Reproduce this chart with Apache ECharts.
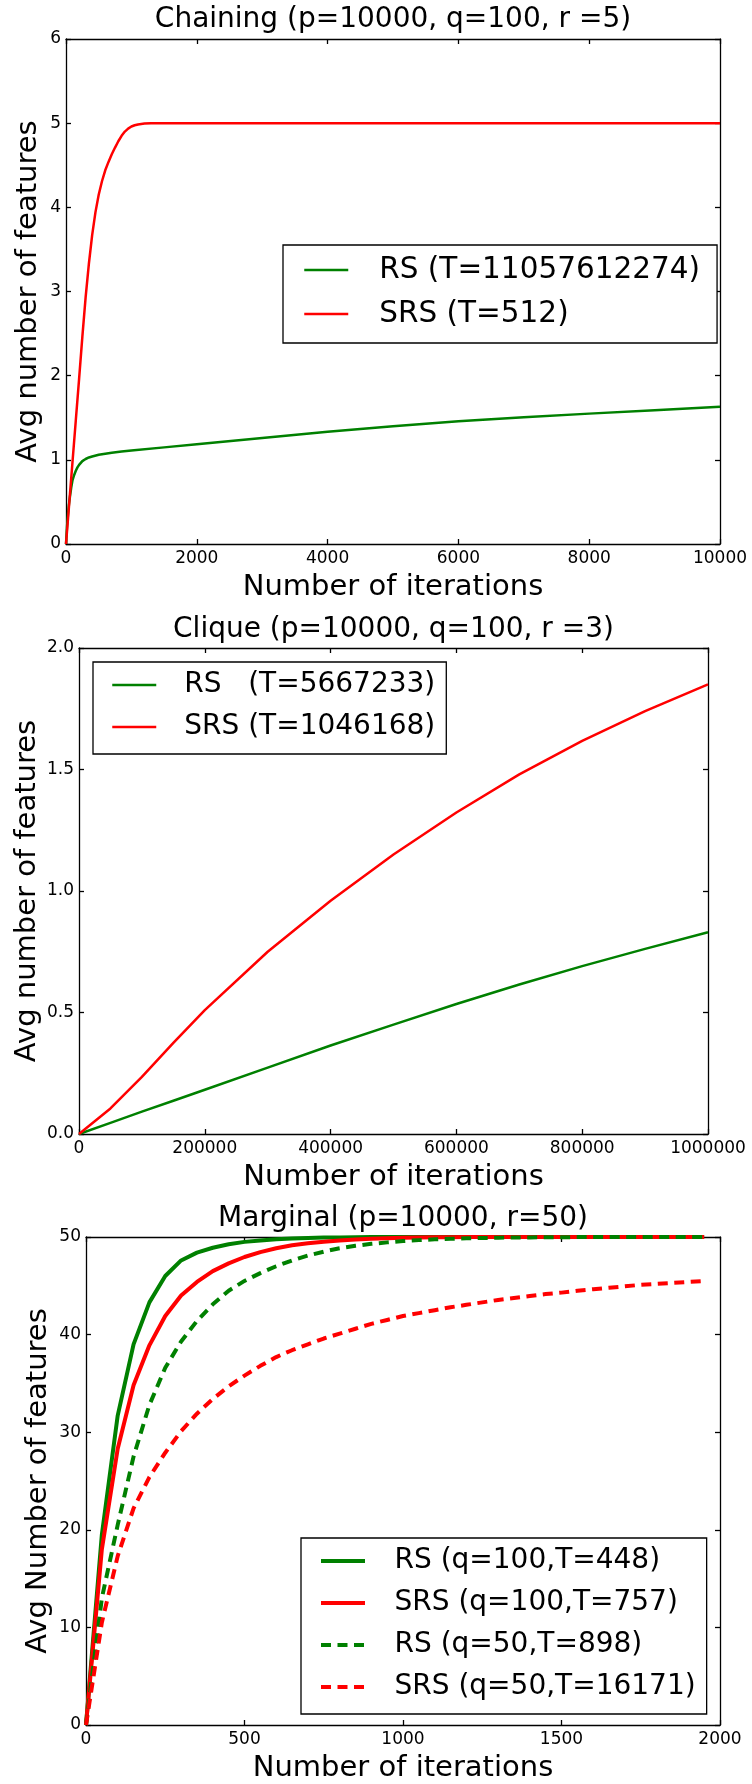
<!DOCTYPE html>
<html><head><meta charset="utf-8">
<script src="https://cdn.jsdelivr.net/npm/echarts@6/dist/echarts.min.js"></script>
<style>html,body{margin:0;padding:0;background:#fff}#c{width:752px;height:1784px}</style>
</head><body><div id="c"></div>
<script>
// ---------- Chart 1: Chaining ----------
const chainRsIter  = [0,15,30,45,60,80,100,125,150,175,200,250,300,350,400,500,600,700,850,1000,1500,2000,3000,4000,5000,6000,7000,8000,9000,10000];
const chainRsVal   = [0,0.2,0.35,0.47,0.56,0.67,0.76,0.82,0.87,0.91,0.94,0.985,1.01,1.028,1.04,1.06,1.073,1.085,1.098,1.11,1.148,1.185,1.26,1.335,1.4,1.458,1.505,1.549,1.59,1.63];
const chainSrsIter = [0,50,100,150,200,250,300,350,400,450,500,550,600,650,700,750,800,850,900,950,1000,1050,1100,1200,1300,1400,2000,4000,6000,8000,10000];
const chainSrsVal  = [0,0.49,0.98,1.47,1.96,2.46,2.93,3.33,3.67,3.94,4.15,4.31,4.44,4.54,4.63,4.71,4.785,4.85,4.9,4.935,4.96,4.975,4.985,4.995,4.999,5,5,5,5,5,5];
const chainXTicks = [0,10000,2000];
const chainYTicks = [0,6,1];

// ---------- Chart 2: Clique ----------
const cliqueIter = [0,50000,100000,150000,200000,300000,400000,500000,600000,700000,800000,900000,1000000];
const cliqueRs   = [0,0.046,0.092,0.137,0.182,0.273,0.364,0.45,0.535,0.615,0.691,0.762,0.83];
const cliqueSrs  = [0,0.105,0.235,0.375,0.51,0.75,0.96,1.15,1.323,1.48,1.618,1.74,1.85];
const cliqueXTicks = [0,1000000,200000];
const cliqueYTicks = [0,2,0.5];

// ---------- Chart 3: Marginal ----------
const margIter = [0,50,100,150,200,250,300,350,400,450,500,550,600,650,700,750,800,850,900,950,
                  1000,1050,1100,1150,1200,1250,1300,1350,1400,1450,1500,1550,1600,1650,1700,1750,1800,1850,1900,1950];
const margRs100  = [0,19.5,31.7,39.0,43.3,46.0,47.6,48.4,48.9,49.25,49.5,49.65,49.77,49.85,49.9,49.94,49.96,49.98,49.99,50,
                    50,50,50,50,50,50,50,50,50,50,50,50,50,50,50,50,50,50,50,50];
const margSrs100 = [0,18,28.3,34.8,38.9,41.9,44.0,45.4,46.5,47.3,47.95,48.45,48.85,49.15,49.35,49.52,49.65,49.75,49.82,49.88,
                    49.92,49.95,49.97,49.98,49.99,50,50,50,50,50,50,50,50,50,50,50,50,50,50,50];
const margRs50   = [0,13,20.5,27.5,32.8,36.6,39.3,41.4,43.1,44.5,45.5,46.3,47.0,47.6,48.1,48.5,48.85,49.1,49.3,49.45,
                    49.58,49.68,49.76,49.82,49.87,49.9,49.93,49.95,49.96,49.97,49.98,49.99,50,50,50,50,50,50,50,50];
const margSrs50  = [0,10.5,17.3,22.2,25.4,27.9,30.1,31.9,33.4,34.7,35.8,36.8,37.7,38.4,39.0,39.6,40.1,40.6,41.1,41.5,
                    41.9,42.2,42.5,42.8,43.05,43.3,43.55,43.75,43.95,44.15,44.3,44.5,44.65,44.8,44.95,45.1,45.2,45.3,45.4,45.5];
const margXTicks = [0,2000,500];
const margYTicks = [0,50,10];

const titles = ['Chaining (p=10000, q=100, r =5)', 'Clique (p=10000, q=100, r =3)', 'Marginal (p=10000, r=50)'];
const xNames = ['Number of iterations','Number of iterations','Number of iterations'];
const yNames = ['Avg number of features','Avg number of features','Avg Number of features'];
const names1 = ['RS (T=11057612274)','SRS (T=512)'];
const names2 = ['RS   (T=5667233)','SRS (T=1046168)'];
const names3 = ['RS (q=100,T=448)','SRS (q=100,T=757)','RS (q=50,T=898)','SRS (q=50,T=16171)'];

const GREEN = '#008000', RED = '#ff0000', FONT = 'DejaVu Sans';
const zip = (a, b) => a.map((v, i) => [v, b[i]]);

const grids = [
  {left:66, top:39, width:654, height:505},
  {left:79, top:648, width:629, height:486},
  {left:86, top:1237, width:634, height:490}
];
const xT = [chainXTicks, cliqueXTicks, margXTicks];
const yT = [chainYTicks, cliqueYTicks, margYTicks];
const yNameGap = [23, 37, 33];

const lineCommon = {show:true, onZero:false, lineStyle:{color:'#000', width:1.3}};
const tickCommon = {show:true, inside:true, length:5, lineStyle:{color:'#000', width:1.3}};
const labelCommon = {color:'#000', fontSize:17, fontFamily:FONT};
const nameStyle = {color:'#000', fontSize:29, fontFamily:FONT};

const xAxis = [], yAxis = [];
for (let g = 0; g < 3; g++) {
  const [xmin, xmax, xint] = xT[g];
  const [ymin, ymax, yint] = yT[g];
  xAxis.push({type:'value', gridIndex:g, position:'bottom', min:xmin, max:xmax, interval:xint,
    axisLine:lineCommon, axisTick:tickCommon, splitLine:{show:false},
    axisLabel:Object.assign({margin:6, showMinLabel:true, showMaxLabel:true, formatter:(v => String(v))}, labelCommon),
    name:xNames[g], nameLocation:'middle', nameGap:29, nameTextStyle:nameStyle});
  xAxis.push({type:'value', gridIndex:g, position:'top', min:xmin, max:xmax, interval:xint,
    axisLine:lineCommon, axisTick:tickCommon, splitLine:{show:false}, axisLabel:{show:false}});
  yAxis.push({type:'value', gridIndex:g, position:'left', min:ymin, max:ymax, interval:yint,
    axisLine:lineCommon, axisTick:tickCommon, splitLine:{show:false},
    axisLabel:Object.assign({margin:5, showMinLabel:true, showMaxLabel:true,
      formatter: g === 1 ? (v => v.toFixed(1)) : (v => String(v))}, labelCommon),
    name:yNames[g], nameLocation:'middle', nameGap:yNameGap[g], nameMoveOverlap:false, nameTextStyle:nameStyle});
  yAxis.push({type:'value', gridIndex:g, position:'right', min:ymin, max:ymax, interval:yint,
    axisLine:lineCommon, axisTick:tickCommon, splitLine:{show:false}, axisLabel:{show:false}});
}

function ser(name, g, data, color, width, dash) {
  return {type:'line', name:name, xAxisIndex:2*g, yAxisIndex:2*g, data:data,
    symbol:'none', showSymbol:false, smooth:false, animation:false,
    lineStyle:{color:color, width:width, type:dash || 'solid', cap:'butt', join:'round'},
    itemStyle:{color:color}, z: 3};
}

const series = [
  ser(names1[0], 0, zip(chainRsIter, chainRsVal), GREEN, 2.5, null),
  ser(names1[1], 0, zip(chainSrsIter, chainSrsVal), RED, 2.5, null),
  ser(names2[0], 1, zip(cliqueIter, cliqueRs), GREEN, 2.5, null),
  ser(names2[1], 1, zip(cliqueIter, cliqueSrs), RED, 2.5, null),
  ser(names3[0], 2, zip(margIter, margRs100), GREEN, 4, null),
  ser(names3[1], 2, zip(margIter, margSrs100), RED, 4, null),
  ser(names3[2], 2, zip(margIter, margRs50), GREEN, 4, [10, 6.5]),
  ser(names3[3], 2, zip(margIter, margSrs50), RED, 4, [10, 6.5])
];

function legend(names, left, top, pad, textPad, lineW, fs) {
  return {data:names, orient:'vertical', left:left, top:top, padding:pad,
    itemWidth:44, itemHeight:14, itemGap:14, selectedMode:false,
    borderColor:'#000', borderWidth:1.3, borderRadius:0, backgroundColor:'#fff',
    lineStyle:{width:lineW},
    itemStyle:{opacity:0, borderWidth:0},
    textStyle:{color:'#000', fontSize:fs, fontFamily:FONT, lineHeight:28, padding:[0,0,0,textPad]}};
}

function title(text, cx, top) {
  return {text:text, left:cx, top:top, textAlign:'center', padding:0,
    textStyle:{color:'#000', fontSize:28, fontWeight:'normal', fontFamily:FONT, lineHeight:28}};
}

const chart = echarts.init(document.getElementById('c'), null, {renderer:'canvas'});
chart.setOption({
  animation:false,
  backgroundColor:'#fff',
  title:[title(titles[0], 393, 6), title(titles[1], 393.5, 616), title(titles[2], 403, 1205)],
  grid:grids.map(g => Object.assign({containLabel:false}, g)),
  xAxis:xAxis, yAxis:yAxis,
  legend:[
    legend(names1, 283, 245, [10,17,14,20], 26, 2.5, 29.5),
    legend(names2, 93, 662, [9,11,13,18], 23, 2.5, 28),
    legend(names3, 301, 1538, [9,11,13,18], 24.5, 4, 28)
  ],
  series:series
});
</script></body></html>
